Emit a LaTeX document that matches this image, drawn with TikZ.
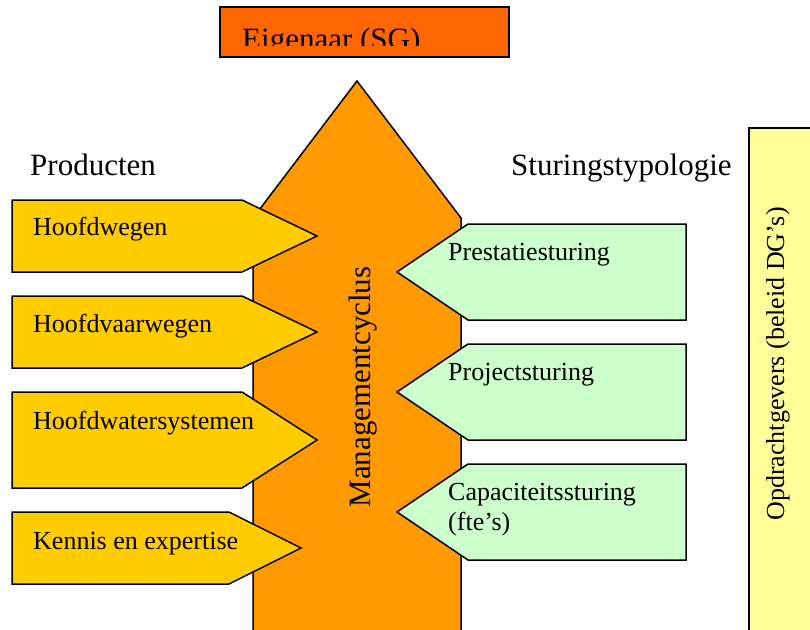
\documentclass[tikz,border=0pt]{standalone}
\usepackage{fontspec}
\setmainfont{Liberation Serif}
\usetikzlibrary{positioning}

\definecolor{eigenaarorange}{HTML}{FF6600}
\definecolor{cyclusorange}{HTML}{FF9900}
\definecolor{productyellow}{HTML}{FFCC00}
\definecolor{sturinggreen}{HTML}{CCFFCC}
\definecolor{opdrachtyellow}{HTML}{FFFF99}

\tikzset{
  shapeline/.style={draw=black, line width=1.5pt, line join=miter},
  productarrow/.style={shapeline, fill=productyellow},
  sturingarrow/.style={shapeline, fill=sturinggreen},
  smalltext/.style={font=\fontsize{26}{30}\selectfont, inner sep=0pt},
  bigtext/.style={font=\fontsize{31}{36}\selectfont, inner sep=0pt}
}

\begin{document}
\begin{tikzpicture}[x=1pt, y=-1pt]
  \clip (0,0) rectangle (810,629);
  % Eigenaar box at the top
  \draw[shapeline, fill=eigenaarorange] (220,7) rectangle (509,57);
  \begin{scope}
    \clip (220,7) rectangle (509,45);
    \node[bigtext, anchor=base west] (eigenaar) at (242,49) {Eigenaar (SG)};
  \end{scope}
  % Big arrow of the management cycle
  \draw[shapeline, fill=cyclusorange] (253,640) -- (253,218) -- (357,81) -- (461,218) -- (461,640);
  \node[bigtext, rotate=90, anchor=base] (cyclus) at (370,387) {Managementcyclus};
  % Opdrachtgevers bar on the right
  \draw[shapeline, fill=opdrachtyellow] (749,128) rectangle (820,640);
  \node[smalltext, rotate=90, anchor=base] (opdrachtgevers) at (784,364) {Opdrachtgevers (beleid DG’s)};
  % Headings
  \node[bigtext, anchor=base west] (producten) at (30,175) {Producten};
  \node[bigtext, anchor=base west] (typologie) at (511,175) {Sturingstypologie};
  % Products pointing into the cycle
  \draw[productarrow] (12,200) -- (242,200) -- (317,236) -- (242,272) -- (12,272) -- cycle;
  \node[smalltext, anchor=base west] (hoofdwegen) at (33,235) {Hoofdwegen};
  \draw[productarrow] (12,296) -- (242,296) -- (317,332) -- (242,368) -- (12,368) -- cycle;
  \node[smalltext, anchor=base west] (vaarwegen) at (33,332) {Hoofdvaarwegen};
  \draw[productarrow] (12,392) -- (242,392) -- (317,440) -- (242,488) -- (12,488) -- cycle;
  \node[smalltext, anchor=base west] (watersystemen) at (33,429) {Hoofdwatersystemen};
  \draw[productarrow] (12,512) -- (229,512) -- (301,548) -- (229,584) -- (12,584) -- cycle;
  \node[smalltext, anchor=base west] (kennis) at (33,549) {Kennis en expertise};
  % Steering types pointing into the cycle
  \draw[sturingarrow] (686,224) -- (468,224) -- (397,272) -- (468,320) -- (686,320) -- cycle;
  \node[smalltext, anchor=base west] (prestatie) at (448,260) {Prestatiesturing};
  \draw[sturingarrow] (686,344) -- (468,344) -- (397,392) -- (468,440) -- (686,440) -- cycle;
  \node[smalltext, anchor=base west] (project) at (448,380) {Projectsturing};
  \draw[sturingarrow] (686,464) -- (468,464) -- (397,512) -- (468,560) -- (686,560) -- cycle;
  \node[smalltext, anchor=base west, align=left] (capaciteit) at (448,530) {Capaciteitssturing\\(fte’s)};
\end{tikzpicture}
\end{document}
